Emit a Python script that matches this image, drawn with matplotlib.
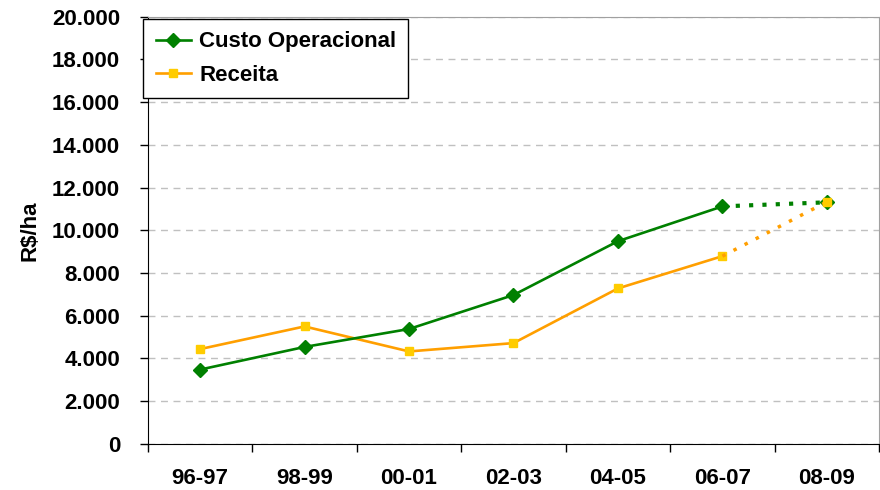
import matplotlib
matplotlib.use("Agg")
import matplotlib.pyplot as plt
from matplotlib.ticker import FuncFormatter, FixedLocator

plt.rcParams["font.family"] = ["Liberation Sans", "DejaVu Sans"]
plt.rcParams["font.weight"] = "bold"

safras = ["96-97", "98-99", "00-01", "02-03", "04-05", "06-07", "08-09"]
custo = [3480, 4540, 5380, 6970, 9490, 11120, 11310]
receita = [4440, 5500, 4330, 4720, 7280, 8790, 11330]

GREEN = "#008000"
ORANGE = "#ff9f00"
YELLOW = "#ffcc00"

fig = plt.figure(figsize=(8.8, 4.9), dpi=100)
ax = fig.add_axes([0.168, 0.094, 0.831, 0.872])

x = list(range(len(safras)))
n = len(safras) - 1   # last point is a projection -> dotted segment

# solid part
ax.plot(x[:n], receita[:n], color=ORANGE, lw=1.9, marker="s", ms=6,
        mfc=YELLOW, mec=YELLOW, zorder=3, label="Receita")
ax.plot(x[:n], custo[:n], color=GREEN, lw=1.9, marker="D", ms=7.5,
        mfc=GREEN, mec=GREEN, zorder=4, label="Custo Operacional")
# dotted projection
ax.plot(x[n - 1:], custo[n - 1:], color=GREEN, lw=3, ls=(0, (1, 2.2)), zorder=4)
ax.plot(x[n:], custo[n:], ls="none", marker="D", ms=7.5, color=GREEN, zorder=4)
ax.plot(x[n - 1:], receita[n - 1:], color=ORANGE, lw=2.5, ls=(0, (1, 2.6)), zorder=5)
ax.plot(x[n:], receita[n:], ls="none", marker="s", ms=6, color=YELLOW, zorder=6)

ax.set_xlim(-0.5, len(safras) - 0.5)
ax.set_ylim(0, 20000)
ax.set_yticks(range(0, 20001, 2000))
ax.yaxis.set_major_formatter(FuncFormatter(lambda v, p: f"{int(v):,}".replace(",", ".")))
ax.grid(axis="y", color="#c0c0c0", ls=(0, (5, 4)), lw=1)
ax.set_axisbelow(True)

ax.set_xticks(x)
ax.set_xticklabels(safras)
ax.xaxis.set_minor_locator(FixedLocator([i - 0.5 for i in range(len(safras) + 1)]))
ax.tick_params(axis="x", which="major", length=0, pad=17, labelsize=16)
ax.tick_params(axis="x", which="minor", length=6, width=1, color="black")
ax.tick_params(axis="y", length=6, width=1, pad=14, labelsize=16)

ax.spines["left"].set_color("black")
ax.spines["bottom"].set_color("black")
ax.spines["top"].set_color("#a0a0a0")
ax.spines["right"].set_color("#a0a0a0")

ax.set_ylabel("R$/ha", fontsize=16, fontweight="bold", labelpad=8)

handles, labels = ax.get_legend_handles_labels()
leg = ax.legend(handles[::-1], labels[::-1], loc="upper left",
                bbox_to_anchor=(-0.006, 0.994), borderaxespad=0,
                fontsize=16, frameon=True,
                fancybox=False, edgecolor="black", framealpha=1,
                handlelength=1.6, handletextpad=0.35, borderpad=0.55,
                labelspacing=0.55)
leg.get_frame().set_linewidth(1)

fig.savefig("out.png", dpi=100)
